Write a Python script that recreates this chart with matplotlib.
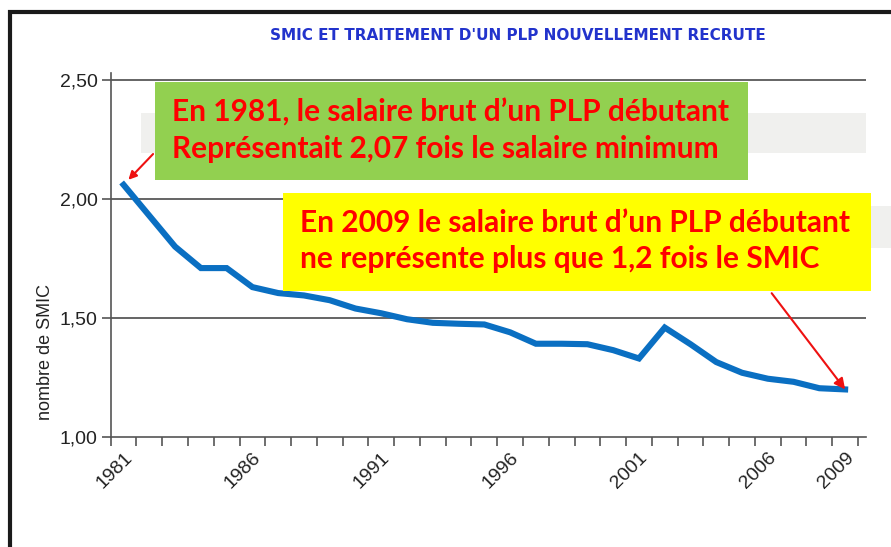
import numpy as np
import matplotlib
matplotlib.use("Agg")
import matplotlib.pyplot as plt
from matplotlib.patches import Rectangle

# ratio salaire PLP debutant / SMIC, 1981-2009
years = list(range(1981, 2010))
ratio = [2.06, 1.93, 1.80, 1.71, 1.71, 1.63, 1.605, 1.595, 1.575, 1.54,
         1.52, 1.495, 1.48, 1.476, 1.473, 1.44, 1.392, 1.392, 1.39, 1.365,
         1.33, 1.46, 1.39, 1.315, 1.27, 1.245, 1.232, 1.205, 1.20]
year_labels = [1981, 1986, 1991, 1996, 2001, 2006, 2009]
y_ticks = [1.0, 1.5, 2.0, 2.5]

title = "SMIC ET TRAITEMENT D'UN PLP NOUVELLEMENT RECRUTE"
note_1981 = "En 1981, le salaire brut d\u2019un PLP débutant\nReprésentait 2,07 fois le salaire minimum"
note_2009 = "En 2009 le salaire brut d\u2019un PLP débutant\nne représente plus que 1,2 fois le SMIC"

W, H = 891, 547
fig = plt.figure(figsize=(W / 100, H / 100), dpi=100)

def fx(px):
    return px / W

def fy(py):
    return 1 - py / H

ax = fig.add_axes([fx(110.7), fy(437), fx(866) - fx(110.7), fy(73) - fy(437)])
ax.plot(years, ratio, color="#0a6fc2", lw=4.4, solid_joinstyle="miter", zorder=3)

ax.set_xlim(1980.5, 2009.5 + 8 / 25.8)
ax.set_ylim(1.0, 2.53)
for s in ["top", "right"]:
    ax.spines[s].set_visible(False)
for s in ["left", "bottom"]:
    ax.spines[s].set_color("#555555")
    ax.spines[s].set_linewidth(1.2)

for v in y_ticks[1:]:
    ax.axhline(v, color="#4a4a4a", lw=1.2, zorder=1)

ax.set_yticks(y_ticks)
ax.set_yticklabels([f"{v:.2f}".replace(".", ",") for v in y_ticks],
                   fontsize=14, family="Liberation Sans", color="#222222")
ax.tick_params(axis="y", direction="out", length=6.5, width=1.2, color="#555555", pad=3)

ax.set_xticks(year_labels)
ax.set_xticklabels([str(y) for y in year_labels], rotation=45, ha="right",
                   va="top", rotation_mode="anchor", fontsize=14,
                   family="Liberation Sans", color="#222222")
ax.set_xticks(np.arange(1980.5, 2010, 1.0), minor=True)
ax.tick_params(axis="x", which="major", length=0, pad=9)
ax.tick_params(axis="x", which="minor", direction="out", length=6.5, width=1.2,
               color="#555555")

fig.text(fx(46), fy(352), "nombre de SMIC", rotation=90, ha="center", va="center",
         fontsize=13, family="Liberation Sans", color="#222222")

fig.text(fx(518), fy(35), title, ha="center", va="center", fontsize=11,
         fontweight="bold", family="DejaVu Sans", color="#2233cc")

# frame
fig.add_artist(Rectangle((fx(9.5), -0.2), 1.2, fy(11.5) + 0.2, fill=False,
                         ec="#1a1a1a", lw=3.0, transform=fig.transFigure, zorder=0))

# grey remnants
fig.add_artist(Rectangle((fx(141), fy(153)), fx(866) - fx(141), fy(113) - fy(153),
                         fc="#f0f0ee", ec="none", transform=fig.transFigure, zorder=5))
fig.add_artist(Rectangle((fx(860), fy(248)), fx(891) - fx(860), fy(206) - fy(248),
                         fc="#f0f0ee", ec="none", transform=fig.transFigure, zorder=5))

# green box
fig.add_artist(Rectangle((fx(155), fy(180)), fx(748) - fx(155), fy(82) - fy(180),
                         fc="#92d050", ec="none", transform=fig.transFigure, zorder=6))
fig.text(fx(172), fy(131), note_1981, ha="left", va="center", fontsize=21.5,
         fontweight="bold", family="Lato", color="#ff0000", linespacing=1.35, zorder=7)

# yellow box
fig.add_artist(Rectangle((fx(283), fy(291)), fx(871) - fx(283), fy(193) - fy(291),
                         fc="#ffff00", ec="none", transform=fig.transFigure, zorder=6))
fig.text(fx(300), fy(241), note_2009, ha="left", va="center", fontsize=21.5,
         fontweight="bold", family="Lato", color="#ff0000", linespacing=1.35, zorder=7)

ax.annotate("", xy=(years[0], ratio[0]), xytext=(fx(155), fy(152)),
            textcoords="figure fraction",
            arrowprops=dict(arrowstyle="-|>", color="#ee1111", lw=1.5,
                            mutation_scale=12, shrinkB=5),
            annotation_clip=False, zorder=8)
ax.annotate("", xy=(years[-1], ratio[-1]), xytext=(fx(770), fy(291)),
            textcoords="figure fraction",
            arrowprops=dict(arrowstyle="-|>", color="#ee1111", lw=1.5,
                            mutation_scale=16, shrinkB=0),
            annotation_clip=False, zorder=8)

fig.savefig("out.png", dpi=100)
